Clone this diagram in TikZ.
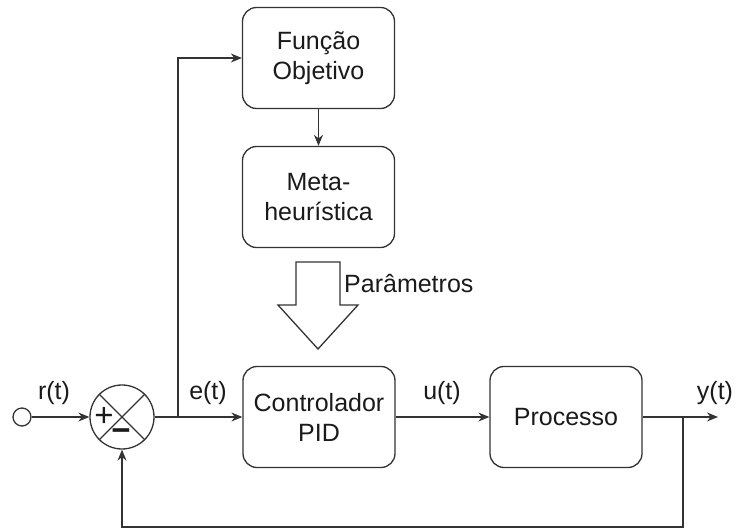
\documentclass[tikz,border=0pt]{standalone}
\usepackage{fontspec}
\setmainfont{Liberation Sans}
\usetikzlibrary{arrows.meta}
\definecolor{lc}{HTML}{333333}
\definecolor{tc}{HTML}{1A1A1A}
\begin{document}
\begin{tikzpicture}[x=1pt,y=-1pt,
  line/.style={draw=lc, line width=1.3pt},
  arr/.style={line, -{Stealth[length=11pt,width=9pt]}},
  blk/.style={draw=lc, line width=1.3pt, rounded corners=14pt, minimum width=152pt, minimum height=101pt, inner sep=0pt, align=center, font=\fontsize{25}{30}\selectfont, text=tc},
  lbl/.style={font=\fontsize{25}{30}\selectfont, text=tc, inner sep=0pt}]
\useasboundingbox (0,0) rectangle (740,529);
\node[blk] (fo) at (318.5,58) {Função\\Objetivo};
\node[blk] (meta) at (318.5,197) {Meta-\\heurística};
\node[blk] (pid) at (319,417) {Controlador\\PID};
\node[blk] (proc) at (566,417) {Processo};
\node[circle, draw=lc, line width=1.3pt, minimum size=64pt, inner sep=0pt] (sum) at (122,417) {};
\draw[line] (sum.north west) -- (sum.south east) (sum.north east) -- (sum.south west);
\node[lbl, font=\fontsize{33}{36}\selectfont] (plus) at (104,417) {+};
\node[lbl, font=\fontsize{33}{36}\selectfont\bfseries] (minus) at (121,435) {−};
\node[circle, draw=lc, line width=1.3pt, minimum size=18pt, inner sep=0pt] (src) at (22,417) {};
\draw[arr] (src) -- (sum);
\draw[arr] (sum) -- (pid);
\coordinate (split) at (178,417);
\draw[arr] (split) |- (fo.west);
\draw[arr] (fo) -- (meta);
\draw[line, fill=white] (296,262) -- (340,262) -- (340,305) -- (358,305) -- (318,349) -- (278,305) -- (296,305) -- cycle;
\node[lbl, anchor=base west] (par) at (344,293) {Parâmetros};
\draw[arr] (pid) -- (proc);
\coordinate (out) at (718,417);
\draw[arr] (proc.east) -- (out);
\coordinate (fb) at (683,417);
\coordinate (fbb) at (683,527);
\draw[arr] (fb) -- (fbb) -| (sum.south);
\node[lbl, anchor=base] (rt) at (54,400) {r(t)};
\node[lbl, anchor=base] (et) at (208,400) {e(t)};
\node[lbl, anchor=base] (ut) at (442,400) {u(t)};
\node[lbl, anchor=base] (yt) at (715,400) {y(t)};
\end{tikzpicture}
\end{document}
